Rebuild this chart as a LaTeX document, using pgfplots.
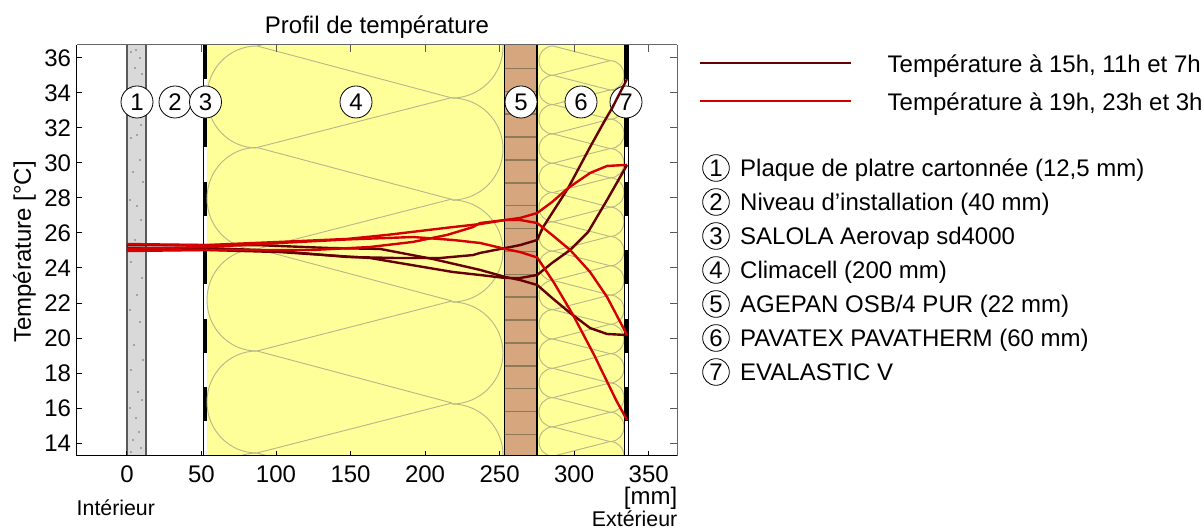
\documentclass[border=0pt]{standalone}
\usepackage{fontspec}
\setmainfont{Liberation Sans}
\usepackage{pgfplots}
\pgfplotsset{compat=1.18}
\definecolor{dk}{HTML}{660000}
\definecolor{rd}{HTML}{D40000}
\definecolor{yel}{HTML}{FFFF99}
\definecolor{wool}{HTML}{B8B88C}
\definecolor{tan5}{HTML}{D6A77E}
\definecolor{tanl}{HTML}{8E7A56}
\newcommand\fs{\fontsize{18}{21}\selectfont}
\newcommand\fsb{\fontsize{16}{19}\selectfont}
\pgfplotsset{geo/.style={at={(57.75pt,56.25pt)},anchor=south west,scale only axis,width=450pt,height=308.25pt}}
\begin{document}
\begin{tikzpicture}
\useasboundingbox (0,0) rectangle (903pt,398.25pt);
% ---------- wall build-up, in pixel units of the picture
\begin{axis}[geo,hide axis,xmin=77,xmax=677,ymin=45,ymax=456,y dir=reverse,clip=true]
\addplot[fill=black!15,draw=none] coordinates {(127,45)(146,45)(146,456)(127,456)} --cycle;
\addplot[only marks,mark=*,mark size=0.25pt,draw=none,fill=black!30] coordinates {
(131,52)(136,50)(140,58)(135,68)(142,74)(131,88)(137,135)(141,125)(131,138)(140,160)(133,172)(143,182)(130,200)(137,206)(141,220)(135,240)(131,262)(142,278)(137,295)(130,310)(140,322)(134,345)(143,360)(131,370)(138,392)(142,400)(130,408)(136,418)(139,432)(133,440)(141,448)(131,452)};
\addplot[draw=black!65,line width=1pt] coordinates {(127,45)(127,456)};
\addplot[draw=black!65,line width=1pt] coordinates {(146,45)(146,456)};
% layer 3
\addplot[draw=black,line width=0.6pt,fill=white] coordinates {(203.5,45)(207,45)(207,456)(203.5,456)} --cycle;
\pgfplotsinvokeforeach{45,113.5,182,250.5,319,387}{
 \addplot[fill=black,draw=none] coordinates {(203.5,#1)(207.3,#1)(207.3,{#1+34})(203.5,{#1+34})} --cycle;}
% layer 4
\addplot[fill=yel,draw=none] coordinates {(207,45)(504,45)(504,456)(207,456)} --cycle;
\pgfplotsinvokeforeach{46,147.5,249,351,453}{
 \draw[wool,line width=0.7pt] (axis cs:257,#1) .. controls (axis cs:229,#1) and (axis cs:207,#1+23) .. (axis cs:207,#1+51)
   .. controls (axis cs:207,#1+79) and (axis cs:229,#1+102) .. (axis cs:257,#1+102);
 \draw[wool,line width=0.7pt] (axis cs:257,#1) -- (axis cs:452,#1+52);
 \draw[wool,line width=0.7pt] (axis cs:257,#1) -- (axis cs:452,#1-50);
}
\pgfplotsinvokeforeach{-4,98,200,302,404}{
 \draw[wool,line width=0.7pt] (axis cs:452,#1) .. controls (axis cs:480,#1) and (axis cs:503,#1+23) .. (axis cs:503,#1+51)
   .. controls (axis cs:503,#1+79) and (axis cs:480,#1+102) .. (axis cs:452,#1+102);
}
% layer 5
\addplot[fill=tan5,draw=none] coordinates {(504,45)(537,45)(537,456)(504,456)} --cycle;
\pgfplotsinvokeforeach{68.3,91.2,114,137,160,183,205.7,228.6,251.5,274.3,297,320,343,366,388.7,411.5,434.4}{
 \addplot[tanl,line width=0.9pt] coordinates {(504,#1)(537,#1)};}
% layer 6
\addplot[fill=yel,draw=none] coordinates {(537,45)(625,45)(625,456)(537,456)} --cycle;
\pgfplotsinvokeforeach{46,75.3,104.6,133.9,163.2,192.5,221.8,251.1,280.4,309.7,339,368.3,397.6,426.9}{
 \draw[wool,line width=0.7pt] (axis cs:553,#1) .. controls (axis cs:545,#1) and (axis cs:539,#1+6.6) .. (axis cs:539,#1+14.65)
   .. controls (axis cs:539,#1+22.7) and (axis cs:545,#1+29.3) .. (axis cs:553,#1+29.3);
 \draw[wool,line width=0.7pt] (axis cs:553,#1) -- (axis cs:610,#1+14.65);
 \draw[wool,line width=0.7pt] (axis cs:553,#1+29.3) -- (axis cs:610,#1+14.65);
 \draw[wool,line width=0.7pt] (axis cs:610,#1+14.65) .. controls (axis cs:618,#1+14.65) and (axis cs:624,#1+21.25) .. (axis cs:624,#1+29.3)
   .. controls (axis cs:624,#1+37.35) and (axis cs:618,#1+43.95) .. (axis cs:610,#1+43.95);
}
\addplot[black,line width=1pt] coordinates {(504.5,45)(504.5,456)};
\addplot[black,line width=1pt] coordinates {(537,45)(537,456)};
% layer 7
\addplot[fill=black,draw=none] coordinates {(624,45)(629.3,45)(629.3,456)(624,456)} --cycle;
\pgfplotsinvokeforeach{79,147.5,216,284.5,353,421.5}{
 \addplot[fill=white,draw=none] coordinates {(625.2,#1)(628.2,#1)(628.2,{#1+34.5})(625.2,{#1+34.5})} --cycle;}
% numbered circles
\tikzset{numc/.style={circle,draw=black,fill=white,line width=0.6pt,minimum size=24pt,inner sep=0pt,font=\fs}}
\node[numc] at (axis cs:137,102) {1};
\node[numc] at (axis cs:175,102) {2};
\node[numc] at (axis cs:205.5,102) {3};
\node[numc] at (axis cs:356,102) {4};
\node[numc] at (axis cs:521,102) {5};
\node[numc] at (axis cs:581,102) {6};
\node[numc] at (axis cs:626,102) {7};
\end{axis}
% ---------- right and top frame, grey
\begin{axis}[geo,xmin=-33.5,xmax=369,ymin=13.26,ymax=36.74,axis x line=top,axis y line=right,axis line style={-,black!60,line width=0.75pt},
 xtick={0,50,...,350},ytick={14,16,...,36},xticklabels={},yticklabels={},tick align=inside,major tick length=5pt,
 tick style={black!65,line width=0.75pt}]
\end{axis}
% ---------- temperature profiles
\begin{axis}[geo,xmin=-33.5,xmax=369,ymin=13.26,ymax=36.74,axis x line=bottom,axis y line=left,axis line style={-,black,line width=0.75pt},
 xtick={0,50,...,350},ytick={14,16,...,36},tick align=inside,major tick length=4pt,tick style={black,line width=0.75pt},
 tick label style={font=\fs},/pgf/number format/assume math mode=true,
 xticklabel style={yshift=-4pt},yticklabel style={xshift=-1pt},
 every axis plot/.append style={line width=1.8pt,line join=round}]
\addplot[dk] coordinates {(0,25.14)(53.7,25.14)(87.2,25.03)(109.4,24.91)(147.7,24.63)(181.2,24.57)(210.1,24.57)(232.2,24.74)(236.9,24.86)(253.7,25.14)(263.8,25.31)(275.2,25.6)(279.2,26.34)(296,28.57)(310.7,30.91)(320.8,32.46)(325.5,33.14)(335.5,34.8)};
\addplot[dk] coordinates {(0,25.03)(53.7,25.03)(102.7,24.91)(163.1,24.57)(218.8,23.77)(236.9,23.6)(253.7,23.43)(263.8,23.43)(275.2,23.6)(285.2,24.29)(297.3,25.03)(309.4,26.06)(322.1,27.89)(335.5,29.89)};
\addplot[dk] coordinates {(0,25.31)(53.7,25.31)(87.2,25.31)(136.2,25.14)(169.8,25.09)(205.4,24.51)(236.9,23.89)(253.7,23.49)(263.8,23.31)(275.2,23.03)(285.2,22.29)(297.3,21.43)(310.7,20.57)(322.1,20.23)(335.5,20.17)};
\addplot[rd] coordinates {(0,25.37)(53.7,25.31)(69.1,25.37)(102.7,25.49)(147.7,25.66)(174.5,25.89)(218.8,26.34)(236.9,26.51)(253.7,26.74)(263.8,26.86)(275.2,27.14)(285.2,27.77)(296,28.57)(310.7,29.43)(322.1,29.83)(335.5,29.89)};
\addplot[rd] coordinates {(0,24.97)(53.7,25.03)(80.5,25.03)(124.8,25.03)(163.1,25.2)(191.9,25.49)(214.8,25.89)(232.2,26.34)(236.9,26.57)(253.7,26.74)(263.8,26.74)(275.2,26.57)(285.2,25.89)(297.3,25.03)(310.7,23.77)(322.1,22.34)(335.5,20.17)};
\addplot[rd] coordinates {(0,25.1)(53.7,25.2)(102.7,25.43)(147.7,25.63)(191.9,25.77)(218.8,25.6)(236.9,25.43)(253.7,25.09)(263.8,24.91)(275.2,24.6)(286.6,23.14)(299.3,21.31)(313.4,19.03)(328.1,16.46)(335.5,15.31)};
\end{axis}
% ---------- texts
\begin{scope}[x=0.75pt,y=-0.75pt,yshift=398.25pt]
\node[anchor=base,font=\fs] at (377,34) {Profil de température};
\node[anchor=base,font=\fs,rotate=90] at (31,252) {Température [°C]};
\node[anchor=base east,font=\fs] at (682,505) {[mm]};
\node[anchor=base west,font=\fsb] at (72,516) {Intérieur};
\node[anchor=base east,font=\fsb] at (682,526.5) {Extérieur};
\draw[dk,line width=1.5pt] (700,63.5) -- (851,63.5);
\draw[rd,line width=1.5pt] (700,101) -- (851,101);
\node[anchor=base west,font=\fs] at (883,73) {Température à 15h, 11h et 7h};
\node[anchor=base west,font=\fs] at (883,111) {Température à 19h, 23h et 3h};
\foreach \yy/\num/\txt in {168/1/{Plaque de platre cartonnée (12,5 mm)},202/2/{Niveau d'installation (40 mm)},236/3/{SALOLA Aerovap sd4000},270/4/{Climacell (200 mm)},304/5/{AGEPAN OSB/4 PUR (22 mm)},338/6/{PAVATEX PAVATHERM (60 mm)},372/7/{EVALASTIC V}}{
 \node[circle,draw=black,line width=0.6pt,minimum size=20pt,inner sep=0pt,font=\fs] at (716,\yy) {\num};
 \node[anchor=base west,font=\fs] at (735.5,\yy+9) {\txt};}
\end{scope}
\end{tikzpicture}
\end{document}
